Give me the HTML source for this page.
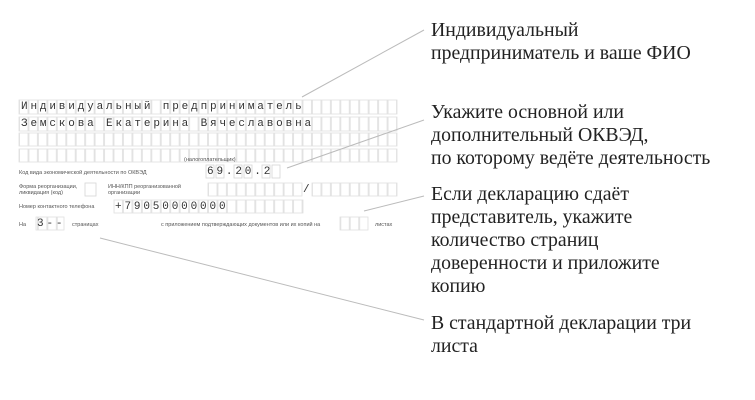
<!DOCTYPE html>
<html><head><meta charset="utf-8"><style>
body{margin:0;width:755px;height:400px;background:#fff;position:relative;overflow:hidden;font-family:"Liberation Sans",sans-serif}
.t{position:absolute;left:431px;font-family:"Liberation Serif","Noto Serif CJK SC",serif;font-size:19.8px;line-height:23px;color:#222}
.s{position:absolute;font-size:5.5px;color:#555;line-height:6px}
.m{position:absolute;font-family:"Liberation Mono",monospace;font-size:11px;letter-spacing:2.85px;color:#333;line-height:12px}
</style></head><body>
<svg width="755" height="400" style="position:absolute;left:0;top:0">
<defs>
<pattern id="c" x="19" y="0" width="9.45" height="400" patternUnits="userSpaceOnUse">
<rect x="0.5" y="0" width="8.5" height="400" fill="none" stroke="#dedede" stroke-width="0.8"/>
</pattern>
</defs>
<g fill="url(#c)" stroke="#e0e0e0" stroke-width="0.8">
<rect x="19" y="100" width="378" height="14"/>
<rect x="19" y="117" width="378" height="14"/>
<rect x="19" y="133" width="378" height="13"/>
<rect x="19" y="149" width="378" height="13"/>
</g>
<g fill="none" stroke="#d6d6d6" stroke-width="0.8">
<rect x="206" y="165" width="8" height="13"/><rect x="216" y="165" width="8" height="13"/>
<rect x="234" y="165" width="8" height="13"/><rect x="244" y="165" width="8" height="13"/>
<rect x="262" y="165" width="8" height="13"/><rect x="272" y="165" width="8" height="13"/>
<rect x="85" y="183" width="11" height="13"/>
</g>
<g fill="url(#c)" stroke="#e0e0e0" stroke-width="0.8">
<rect x="208" y="183" width="94" height="13"/>
<rect x="312" y="183" width="85" height="13"/>
<rect x="114" y="200" width="189" height="13"/>
<rect x="36" y="217" width="28" height="13"/>
<rect x="340" y="217" width="28" height="13"/>
</g>
<g stroke="#bbb" stroke-width="1">
<line x1="302" y1="97" x2="424" y2="30"/>
<line x1="287" y1="168" x2="424" y2="120"/>
<line x1="364" y1="211" x2="424" y2="196"/>
<line x1="100" y1="238" x2="424" y2="320"/>
</g>
</svg>
<div class="m" style="left:21px;top:101px">Индивидуальный предприниматель</div>
<div class="m" style="left:21px;top:118px">Земскова Екатерина Вячеславовна</div>
<div class="s" style="left:184px;top:157px">(налогоплательщик)</div>
<div class="s" style="left:19px;top:170px">Код вида экономической деятельности по ОКВЭД</div>
<div class="m" style="left:207px;top:166px">69.20.2</div>
<div class="s" style="left:19px;top:184px">Форма реорганизации,<br>ликвидация (код)</div>
<div class="s" style="left:108px;top:184px">ИНН/КПП реорганизованной<br>организации</div>
<div class="m" style="left:303px;top:184px">/</div>
<div class="s" style="left:19px;top:204px">Номер контактного телефона</div>
<div class="m" style="left:115px;top:201px">+79050000000</div>
<div class="s" style="left:19px;top:222px">На</div>
<div class="m" style="left:37px;top:218px">3--</div>
<div class="s" style="left:72px;top:222px">страницах</div>
<div class="s" style="left:161px;top:222px">с приложением подтверждающих документов или их копий на</div>
<div class="s" style="left:375px;top:222px">листах</div>
<div class="t" style="top:19px">Индивидуальный<br>предприниматель и ваше ФИО</div>
<div class="t" style="top:101px">Укажите основной или<br>дополнительный ОКВЭД,<br>по которому ведёте деятельность</div>
<div class="t" style="top:183px">Если декларацию сдаёт<br>представитель, укажите<br>количество страниц<br>доверенности и приложите<br>копию</div>
<div class="t" style="top:312px">В стандартной декларации три<br>листа</div>
</body></html>
